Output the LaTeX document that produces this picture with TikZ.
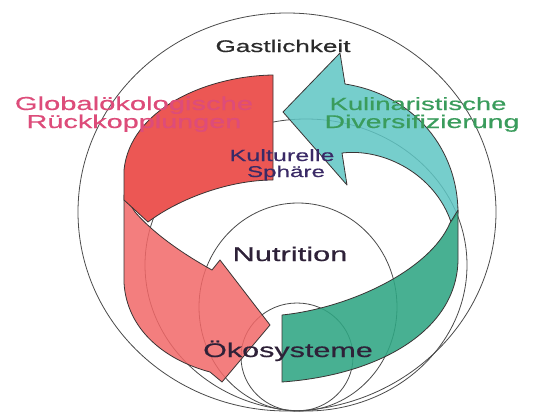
\documentclass[tikz,border=0pt]{standalone}
\usepackage{fontspec}
\newfontfamily\widesans[FakeStretch=1.55,FakeBold=0.6]{Liberation Sans}
\usepackage{tikz}
\definecolor{ink}{HTML}{2B2B2B}
\definecolor{ringgray}{HTML}{4A4A4A}
\definecolor{edge}{HTML}{3A3434}
\definecolor{redback}{HTML}{EC5754}
\definecolor{redfront}{HTML}{F26868}
\definecolor{cyanband}{HTML}{5FC6C4}
\definecolor{greenband}{HTML}{2FA683}
\definecolor{rosetext}{HTML}{DD4C7A}
\definecolor{greentext}{HTML}{3A9C5C}
\definecolor{violet}{HTML}{3A2A66}
\definecolor{plum}{HTML}{2E2138}
\tikzset{
  ring/.style={draw=ringgray, line width=0.8pt},
  band/.style={draw=edge, line width=0.8pt, line join=round, fill=#1},
  lbl/.style={font=\widesans\fontsize{#1}{#1}\selectfont, anchor=base, inner sep=0pt},
}

\begin{document}
\begin{tikzpicture}[x=1pt,y=-1pt]
  \useasboundingbox[fill=white] (0,0) rectangle (536,415);
  % nested spheres
  \draw[ring] (287,212) ellipse (209 and 199);
  \draw[ring] (306,265) ellipse (161 and 146);
  \draw[ring] (298,307) ellipse (99 and 104);
  \draw[ring] (297,357) ellipse (56 and 54);
  % culinary ribbon: back part (cyan) and front part (green)
  \draw[band=cyanband, fill opacity=0.85] (458,213) .. controls (458,150) and (415,95) .. (345,84)
    -- (340,53) -- (283,112) -- (347,185) -- (342,153)
    .. controls (385,148) and (435,175) .. (451,222) -- cycle;
  \draw[band=greenband, fill opacity=0.88] (282,315) -- (282,382)
    .. controls (380,375) and (457,330) .. (458,260) -- (458,210) -- (450,223)
    .. controls (430,270) and (350,308) .. (282,315) -- cycle;
  % ecological ribbon: front part (pink) and back part (red)
  \draw[band=redfront, fill opacity=0.85] (124,195) -- (124,283)
    .. controls (127,330) and (165,360) .. (210,372) -- (222,382) -- (270,325)
    -- (220,260) -- (212,270) .. controls (185,255) and (155,235) .. (135,212) -- cycle;
  \draw[band=redback] (273,75) .. controls (205,76) and (130,110) .. (124,170)
    -- (124,200) -- (148,222) .. controls (180,198) and (230,180) .. (273,180) -- cycle;
  % labels
  \node[lbl=16.85, text=ink] (gast) at (283,52) {Gastlichkeit};
  \node[lbl=18.8, text=rosetext] (global) at (134,110) {Globalökologische};
  \node[lbl=18.6, text=rosetext] (rueck) at (134,128) {Rückkopplungen};
  \node[lbl=17.7, text=greentext] (kulin) at (418,110) {Kulinaristische};
  \node[lbl=18.4, text=greentext] (divers) at (422,128) {Diversifizierung};
  \node[lbl=16.25, text=violet] (kult) at (282,161) {Kulturelle};
  \node[lbl=15.6, text=violet] (sphaere) at (286,177) {Sphäre};
  \node[lbl=19.9, text=plum] (nutri) at (290,261) {Nutrition};
  \node[lbl=19.7, text=plum] (oeko) at (288,357) {Ökosysteme};
\end{tikzpicture}
\end{document}
